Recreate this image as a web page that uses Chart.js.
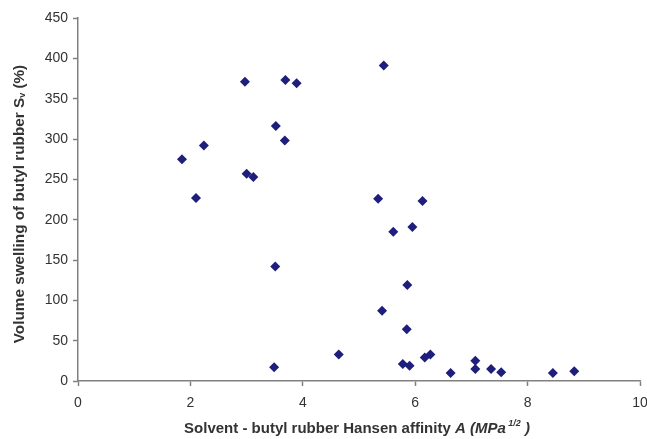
<!DOCTYPE html>
<html>
<head>
<meta charset="utf-8">
<script src="https://cdn.jsdelivr.net/npm/chart.js@4.4.1/dist/chart.umd.min.js"></script>
<style>
  html, body { margin: 0; padding: 0; background: #fff; }
  #wrap { width: 647px; height: 439px; position: relative; }
</style>
</head>
<body>
<div id="wrap"><canvas id="grafica"></canvas></div>
<script>
// Datos: afinidad de Hansen (x) y hinchamiento volumétrico (y)
const afinidad = [
    1.85, 2.10, 2.24, 2.97, 3.00, 3.12, 3.52, 3.68, 3.69, 3.89,
    5.44, 5.34, 6.13, 3.51, 3.49, 5.61, 5.95, 5.86, 5.41, 5.85,
    4.64, 5.78, 5.90, 6.17, 6.27, 6.63, 7.07, 7.07, 7.35, 7.53,
    8.45, 8.83
];
const hinchamiento = [
    275, 227, 292, 371, 257, 253, 316, 298, 373, 369,
    391, 226, 223, 142, 17, 185, 191, 119, 87, 64,
    33, 21, 19, 29, 33, 10, 25, 15, 15, 11,
    10, 12
];
const ticksX = [0, 2, 4, 6, 8, 10];
const ticksY = [0, 50, 100, 150, 200, 250, 300, 350, 400, 450];

const colorEje = '#808080';
const colorTexto = '#333333';
const fuente = "'Liberation Sans', Arial, sans-serif";

const puntos = afinidad.map((x, i) => ({ x: x, y: hinchamiento[i] }));

// Dibuja una secuencia de fragmentos de texto con estilos distintos
function dibujarFragmentos(ctx, fragmentos, cx, cy) {
    let total = 0;
    fragmentos.forEach(f => {
        ctx.font = f.font;
        f.ancho = ctx.measureText(f.texto).width;
        total += f.ancho;
    });
    let x = cx - total / 2;
    fragmentos.forEach(f => {
        ctx.font = f.font;
        ctx.fillText(f.texto, x, cy + (f.dy || 0));
        x += f.ancho;
    });
}

const titulosEjes = {
    id: 'titulosEjes',
    afterDraw(chart) {
        const ctx = chart.ctx;
        ctx.save();
        ctx.fillStyle = colorTexto;
        ctx.textBaseline = 'middle';
        ctx.textAlign = 'left';

        // Título eje X
        dibujarFragmentos(ctx, [
            { texto: 'Solvent - butyl rubber Hansen affinity ', font: `bold 15px ${fuente}` },
            { texto: 'A', font: `italic bold 15px ${fuente}` },
            { texto: ' (MPa', font: `italic bold 15px ${fuente}` },
            { texto: ' 1/2', font: `italic bold 9px ${fuente}`, dy: -5 },
            { texto: ' )', font: `italic bold 15px ${fuente}` }
        ], 357, 429);

        // Título eje Y (rotado)
        ctx.translate(20, 204);
        ctx.rotate(-Math.PI / 2);
        dibujarFragmentos(ctx, [
            { texto: 'Volume swelling of butyl rubber S', font: `bold 15.3px ${fuente}` },
            { texto: 'v', font: `bold 9px ${fuente}`, dy: 3 },
            { texto: ' (%)', font: `bold 15.3px ${fuente}` }
        ], 0, 0);
        ctx.restore();
    }
};

new Chart(document.getElementById('grafica').getContext('2d'), {
    type: 'scatter',
    data: {
        datasets: [{
            data: puntos,
            pointStyle: 'rectRot',
            pointRadius: 5,
            pointHoverRadius: 5,
            backgroundColor: '#1e1e7c',
            borderColor: '#1e1e7c',
            borderWidth: 0
        }]
    },
    options: {
        responsive: true,
        maintainAspectRatio: false,
        animation: false,
        layout: { padding: { left: 0, top: 18, right: 7, bottom: 0 } },
        plugins: {
            legend: { display: false },
            tooltip: { enabled: false }
        },
        scales: {
            x: {
                type: 'linear',
                min: 0,
                max: 10,
                afterFit: s => { s.height = 58; s.paddingLeft = 0; s.paddingRight = 0; },
                afterBuildTicks: s => { s.ticks = ticksX.map(v => ({ value: v })); },
                ticks: { color: colorTexto, font: { family: fuente, size: 14 }, padding: 9 },
                grid: { drawOnChartArea: false, drawTicks: true, tickLength: 5, color: colorEje, tickWidth: 1.5 },
                border: { color: colorEje, width: 1.5 }
            },
            y: {
                type: 'linear',
                min: 0,
                max: 450,
                afterFit: s => { s.width = 78; s.paddingTop = 0; s.paddingBottom = 0; },
                afterBuildTicks: s => { s.ticks = ticksY.map(v => ({ value: v })); },
                ticks: { color: colorTexto, font: { family: fuente, size: 14 }, padding: 5 },
                grid: { drawOnChartArea: false, drawTicks: true, tickLength: 5, color: colorEje, tickWidth: 1.5 },
                border: { color: colorEje, width: 1.5 }
            }
        }
    },
    plugins: [titulosEjes]
});
</script>
</body>
</html>
